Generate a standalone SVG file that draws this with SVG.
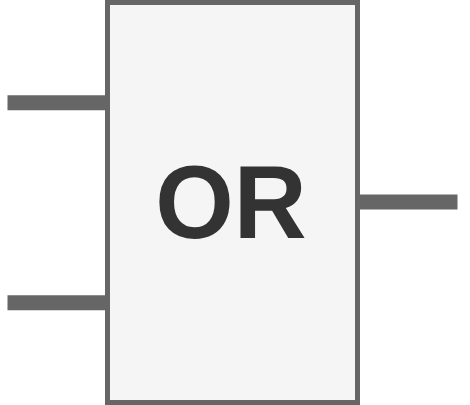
<svg xmlns="http://www.w3.org/2000/svg" width="470" height="405" viewBox="0 0 470 405">
<style>.w{stroke:#666;stroke-width:15;fill:none}.b{fill:#f5f5f5;stroke:#666;stroke-width:5}.t{font-family:"Liberation Sans",Arial,sans-serif;font-size:100px;font-weight:bold;fill:#333;text-anchor:middle;text-rendering:geometricPrecision}</style>
<rect width="470" height="405" fill="#fff"/>
<g id="connectors"><path class="w" d="M7.500 102.700H108"/><path class="w" d="M7.500 302.700H108"/><path class="w" d="M358 202H457.500"/></g>
<g id="or-gate"><rect class="b" x="107.500" y="2.500" width="250" height="400"/><text class="t" transform="translate(231 238) scale(1.01 1.04)">OR</text></g>
</svg>
